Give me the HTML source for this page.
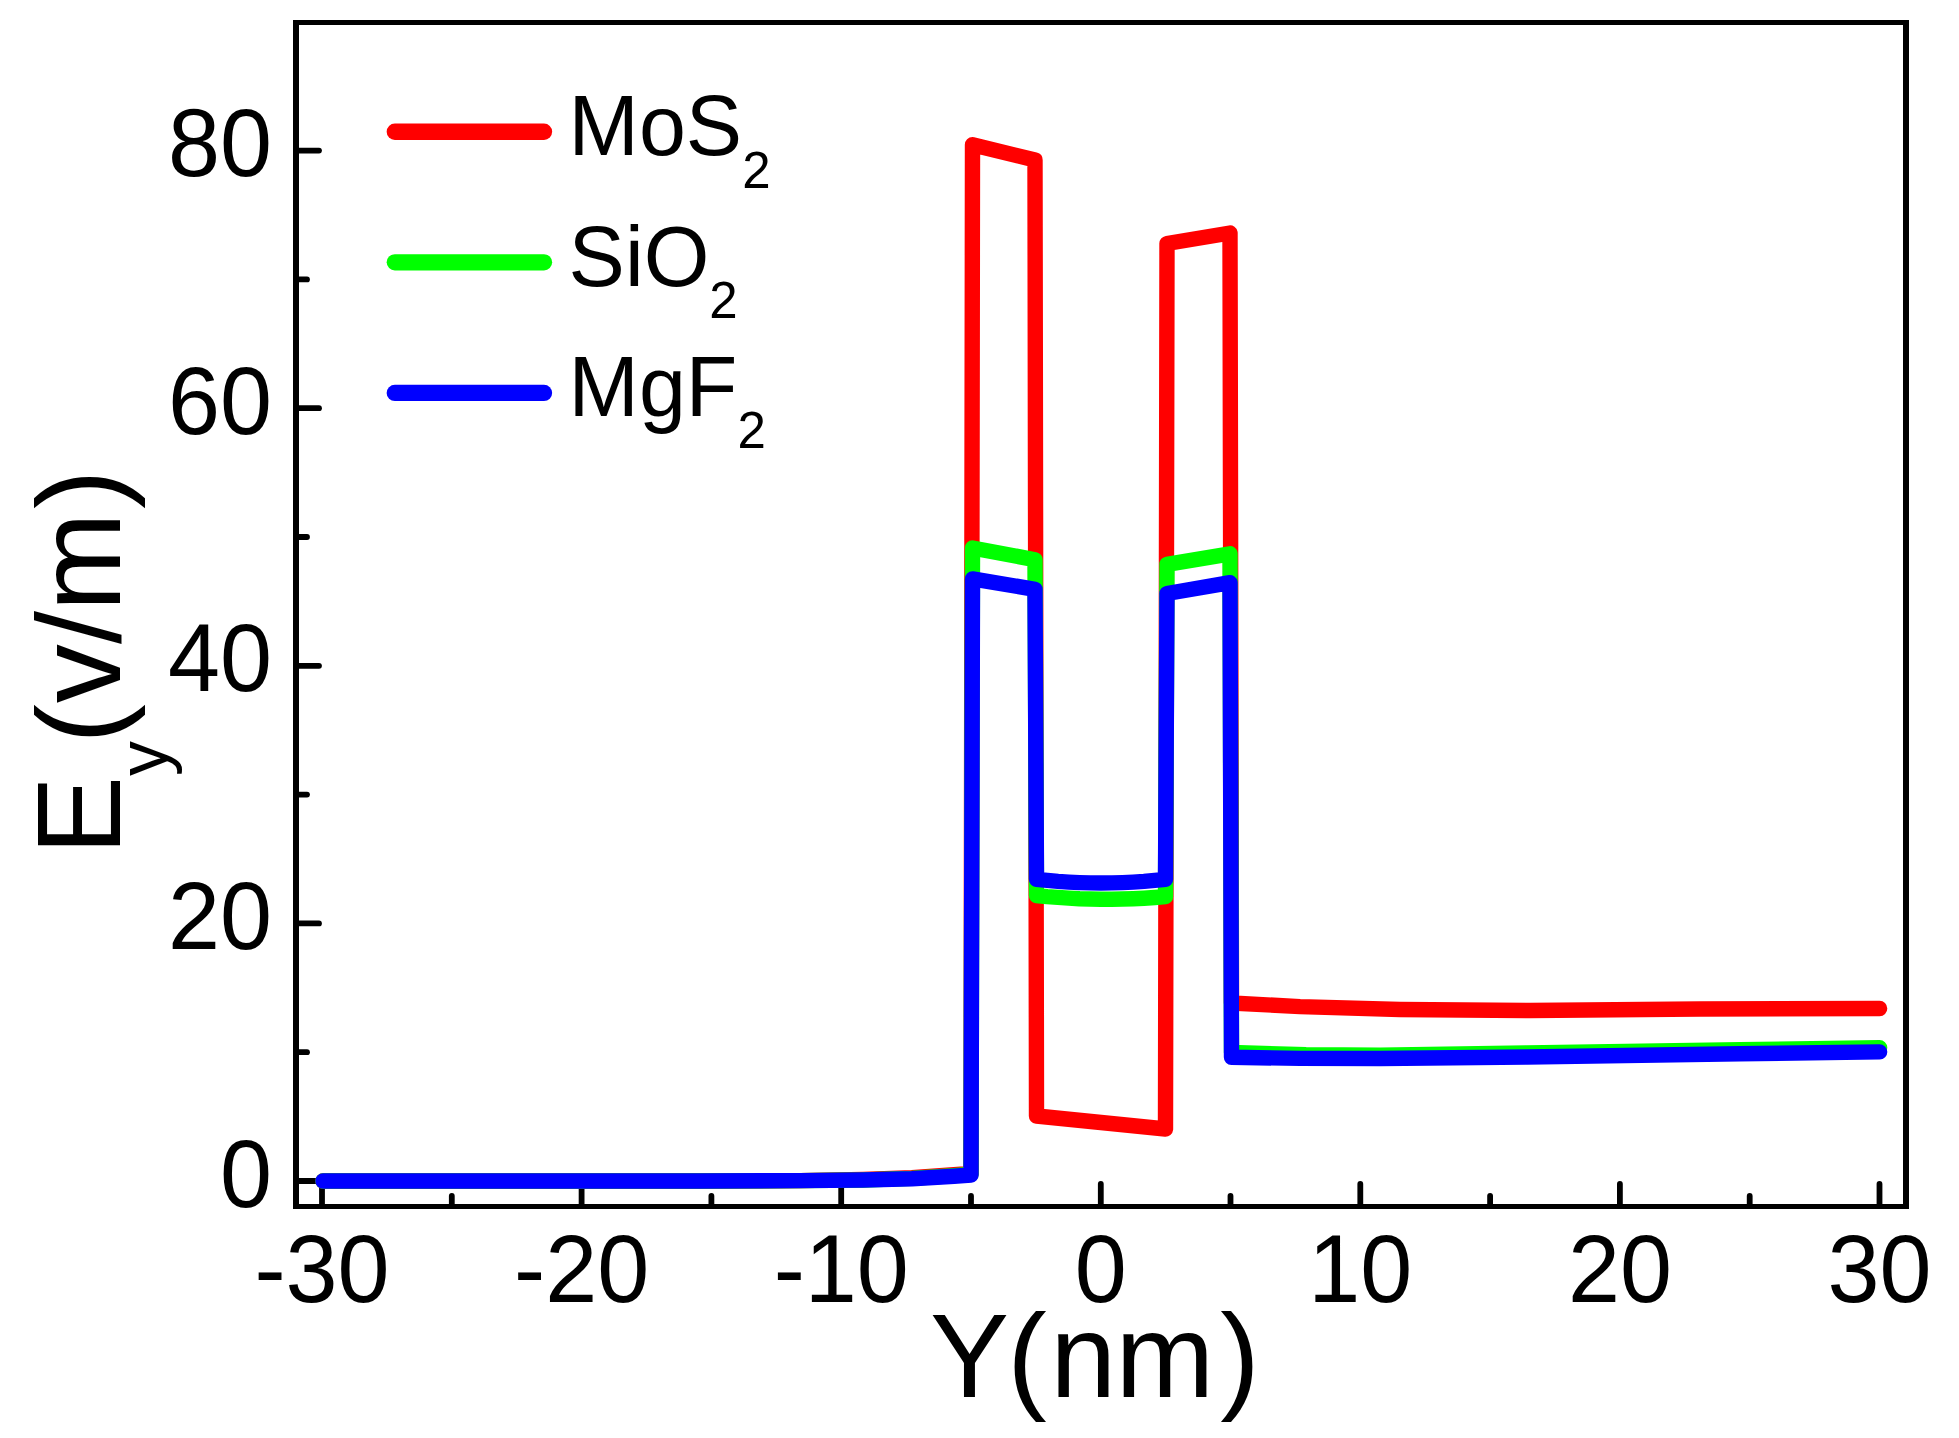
<!DOCTYPE html>
<html><head><meta charset="utf-8"><title>Ey vs Y</title>
<style>html,body{margin:0;padding:0;background:#fff;overflow:hidden}svg{display:block}text{font-family:"Liberation Sans",Arial,sans-serif;fill:#000}</style></head><body>
<svg width="1959" height="1438" viewBox="0 0 1959 1438">
<rect x="0" y="0" width="1959" height="1438" fill="#fff"/>
<g stroke="#000" fill="none">
<line x1="296" y1="20.0" x2="296" y2="1209.0" stroke-width="6"/>
<line x1="1906" y1="20.0" x2="1906" y2="1209.0" stroke-width="6"/>
<line x1="293" y1="22.5" x2="1909" y2="22.5" stroke-width="5"/>
<line x1="293" y1="1206.5" x2="1909" y2="1206.5" stroke-width="5"/>
<line x1="322.0" y1="1205.5" x2="322.0" y2="1183.9" stroke-width="5.8" stroke-linecap="round"/>
<line x1="451.8" y1="1205.5" x2="451.8" y2="1195.9" stroke-width="5.8" stroke-linecap="round"/>
<line x1="581.6" y1="1205.5" x2="581.6" y2="1183.9" stroke-width="5.8" stroke-linecap="round"/>
<line x1="711.4" y1="1205.5" x2="711.4" y2="1195.9" stroke-width="5.8" stroke-linecap="round"/>
<line x1="841.2" y1="1205.5" x2="841.2" y2="1183.9" stroke-width="5.8" stroke-linecap="round"/>
<line x1="971.0" y1="1205.5" x2="971.0" y2="1195.9" stroke-width="5.8" stroke-linecap="round"/>
<line x1="1100.8" y1="1205.5" x2="1100.8" y2="1183.9" stroke-width="5.8" stroke-linecap="round"/>
<line x1="1230.5" y1="1205.5" x2="1230.5" y2="1195.9" stroke-width="5.8" stroke-linecap="round"/>
<line x1="1360.3" y1="1205.5" x2="1360.3" y2="1183.9" stroke-width="5.8" stroke-linecap="round"/>
<line x1="1490.1" y1="1205.5" x2="1490.1" y2="1195.9" stroke-width="5.8" stroke-linecap="round"/>
<line x1="1619.9" y1="1205.5" x2="1619.9" y2="1183.9" stroke-width="5.8" stroke-linecap="round"/>
<line x1="1749.7" y1="1205.5" x2="1749.7" y2="1195.9" stroke-width="5.8" stroke-linecap="round"/>
<line x1="1879.5" y1="1205.5" x2="1879.5" y2="1183.9" stroke-width="5.8" stroke-linecap="round"/>
<line x1="296" y1="1181.0" x2="319" y2="1181.0" stroke-width="5.8" stroke-linecap="round"/>
<line x1="296" y1="1052.2" x2="307" y2="1052.2" stroke-width="5.8" stroke-linecap="round"/>
<line x1="296" y1="923.4" x2="319" y2="923.4" stroke-width="5.8" stroke-linecap="round"/>
<line x1="296" y1="794.6" x2="307" y2="794.6" stroke-width="5.8" stroke-linecap="round"/>
<line x1="296" y1="665.8" x2="319" y2="665.8" stroke-width="5.8" stroke-linecap="round"/>
<line x1="296" y1="537.0" x2="307" y2="537.0" stroke-width="5.8" stroke-linecap="round"/>
<line x1="296" y1="408.2" x2="319" y2="408.2" stroke-width="5.8" stroke-linecap="round"/>
<line x1="296" y1="279.4" x2="307" y2="279.4" stroke-width="5.8" stroke-linecap="round"/>
<line x1="296" y1="150.6" x2="319" y2="150.6" stroke-width="5.8" stroke-linecap="round"/>
</g>
<path d="M323.0,1181.0 L700.0,1181.0 L800.0,1180.6 L863.0,1179.5 L912.0,1177.8 L954.0,1174.8 L971.0,1173.5 L972.5,144.8 L1035.0,160.0 L1036.5,1116.0 L1165.5,1129.0 L1167.0,243.5 L1230.0,233.0 L1231.5,1003.0 L1300.0,1006.6 L1400.0,1009.5 L1530.0,1010.5 L1700.0,1009.0 L1879.6,1008.5" fill="none" stroke="#ff0000" stroke-width="15.4" stroke-linejoin="round" stroke-linecap="round"/>
<path d="M323.0,1181.0 L700.0,1181.0 L800.0,1180.6 L863.0,1180.0 L912.0,1178.4 L954.0,1175.6 L971.0,1174.3 L972.5,548.0 L1035.0,559.7 L1036.5,895.5 L1047.2,896.6 L1058.0,897.4 L1068.8,898.1 L1079.5,898.7 L1090.2,899.0 L1101.0,899.2 L1111.8,899.2 L1122.5,899.0 L1133.2,898.7 L1144.0,898.2 L1154.8,897.5 L1165.5,896.6 L1167.0,564.3 L1230.0,553.8 L1231.5,1052.5 L1306.0,1054.7 L1380.0,1055.1 L1527.0,1052.9 L1740.0,1049.7 L1879.6,1047.7" fill="none" stroke="#00ff00" stroke-width="15.4" stroke-linejoin="round" stroke-linecap="round"/>
<path d="M323.0,1181.0 L700.0,1181.0 L800.0,1180.6 L863.0,1180.0 L912.0,1178.7 L954.0,1176.2 L971.0,1175.0 L972.5,578.9 L1035.0,589.3 L1036.5,879.3 L1047.2,880.4 L1058.0,881.4 L1068.8,882.1 L1079.5,882.6 L1090.2,882.9 L1101.0,883.0 L1111.8,882.9 L1122.5,882.6 L1133.2,882.1 L1144.0,881.4 L1154.8,880.4 L1165.5,879.3 L1167.0,593.5 L1230.0,582.7 L1231.5,1057.3 L1300.0,1058.4 L1380.0,1058.5 L1527.0,1057.0 L1740.0,1053.8 L1879.6,1051.9" fill="none" stroke="#0000ff" stroke-width="15.4" stroke-linejoin="round" stroke-linecap="round"/>
<line x1="394.8" y1="131.75" x2="544" y2="131.75" stroke="#ff0000" stroke-width="16.3" stroke-linecap="round"/>
<line x1="394.8" y1="262.35" x2="544" y2="262.35" stroke="#00ff00" stroke-width="16.3" stroke-linecap="round"/>
<line x1="394.8" y1="392.95" x2="544" y2="392.95" stroke="#0000ff" stroke-width="16.3" stroke-linecap="round"/>
<text x="568.6" y="155.1" font-size="84.4">MoS<tspan font-size="51" dy="32.6">2</tspan></text>
<text x="568.6" y="285.6" font-size="84.4">SiO<tspan font-size="51" dy="32.8">2</tspan></text>
<text x="568.6" y="416.1" font-size="84.4">MgF<tspan font-size="51" dy="31.4">2</tspan></text>
<text transform="translate(272,1206.5) scale(1,1.024)" font-size="93.5" text-anchor="end">0</text>
<text transform="translate(272,948.9) scale(1,1.024)" font-size="93.5" text-anchor="end">20</text>
<text transform="translate(272,691.3) scale(1,1.024)" font-size="93.5" text-anchor="end">40</text>
<text transform="translate(272,433.7) scale(1,1.024)" font-size="93.5" text-anchor="end">60</text>
<text transform="translate(272,176.1) scale(1,1.024)" font-size="93.5" text-anchor="end">80</text>
<text transform="translate(322.0,1302.2) scale(1,1.024)" font-size="93.5" text-anchor="middle">-30</text>
<text transform="translate(581.6,1302.2) scale(1,1.024)" font-size="93.5" text-anchor="middle">-20</text>
<text transform="translate(841.2,1302.2) scale(1,1.024)" font-size="93.5" text-anchor="middle">-10</text>
<text transform="translate(1100.8,1302.2) scale(1,1.024)" font-size="93.5" text-anchor="middle">0</text>
<text transform="translate(1360.3,1302.2) scale(1,1.024)" font-size="93.5" text-anchor="middle">10</text>
<text transform="translate(1619.9,1302.2) scale(1,1.024)" font-size="93.5" text-anchor="middle">20</text>
<text transform="translate(1879.5,1302.2) scale(1,1.024)" font-size="93.5" text-anchor="middle">30</text>
<text x="930.1 1007.3 1050.2 1115.6 1220.2" y="1397" font-size="118.5">Y(nm)</text>
<text transform="translate(120,0) rotate(-90)" x="-855.0 -776.1 -743.4 -703.3 -643.9 -611.3 -508.9" y="0" font-size="118.5">E<tspan font-size="70" dy="46.7">y</tspan><tspan dy="-46.7">(v/m)</tspan></text>
</svg></body></html>
